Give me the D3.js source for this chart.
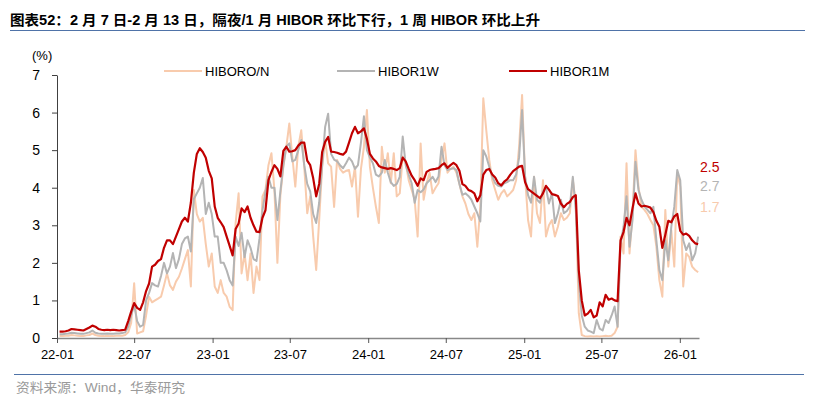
<!DOCTYPE html>
<html>
<meta charset="utf-8">
<script src="https://cdn.jsdelivr.net/npm/d3@7"></script>
<style>
body { margin: 0; background: #fff; }
svg text { font-family: "Liberation Sans", Arial, "Noto Sans CJK SC", sans-serif; }
</style>
<body>
<svg id="chart" width="820" height="397"></svg>
</body>
<script>
// weekly fixings (Fridays), 2022-01-07 .. 2026-02-13
const firstWeek = new Date(2022, 0, 7);

const hiborON = [
	0.05,0.05,0.06,0.06,0.08,0.07,0.06,0.05,0.05,0.07,
	0.08,0.12,0.08,0.06,0.05,0.05,0.06,0.05,0.05,0.06,
	0.06,0.06,0.08,0.15,0.4,1.46,0.12,0.15,0.18,0.6,
	1.1,0.95,1.0,1.05,1.1,1.4,1.72,1.4,1.28,1.5,
	1.63,1.85,2.1,2.34,1.37,3.94,3.3,3.1,3.2,2.5,
	1.9,2.25,1.37,1.2,1.54,1.2,1.1,0.83,0.74,3.06,
	3.85,1.72,2.25,1.54,2.25,1.2,1.9,1.54,3.77,3.94,
	4.6,4.92,3.94,2.0,3.8,4.56,5.09,5.71,4.83,4.03,
	5.09,5.53,4.56,3.32,3.77,2.7,1.81,3.14,4.56,5.27,
	4.65,4.56,3.49,4.74,4.5,4.4,4.45,4.47,4.03,4.56,
	3.23,4.5,5.09,6.07,4.56,4.0,3.5,3.06,5.09,4.4,
	4.92,4.12,4.92,3.77,3.85,4.83,4.65,4.2,3.94,3.68,
	2.7,5.18,3.68,4.12,4.4,3.85,4.0,4.12,4.74,5.18,
	4.4,4.5,4.56,4.4,4.1,3.77,3.58,3.3,3.14,3.32,
	2.43,3.5,6.38,5.53,4.74,4.2,3.94,3.68,3.85,3.94,
	3.77,3.85,3.94,4.2,5.09,6.47,4.29,3.14,2.7,4.29,
	3.32,3.06,4.2,2.7,3.0,3.14,2.7,2.96,3.32,3.14,
	3.2,3.32,4.2,3.6,0.66,0.08,0.05,0.04,0.05,0.04,
	0.05,0.04,0.05,0.06,0.05,0.06,0.13,0.3,2.7,2.25,
	4.65,2.25,3.32,5.0,4.03,3.49,3.41,3.3,3.14,3.0,
	2.43,1.54,1.1,3.41,1.9,2.87,1.9,4.4,4.03,1.37,
	2.25,2.16,1.9,1.81,1.75
];

const hibor1W = [
	0.1,0.1,0.11,0.12,0.14,0.13,0.12,0.11,0.11,0.13,
	0.15,0.2,0.14,0.12,0.11,0.11,0.12,0.11,0.11,0.12,
	0.12,0.13,0.15,0.3,0.6,0.88,0.45,0.3,0.35,1.0,
	1.2,1.46,1.4,1.37,1.65,2.0,1.72,1.9,2.26,1.86,
	2.1,2.5,2.65,2.7,2.3,3.7,3.85,4.0,4.26,3.3,
	3.6,3.3,2.7,2.7,2.0,2.0,1.8,1.54,1.4,2.7,
	2.45,2.8,2.15,2.6,2.4,2.1,2.05,2.65,3.4,3.9,
	4.29,4.0,4.0,3.14,3.9,4.6,5.1,5.18,4.7,4.74,
	5.0,5.27,4.6,4.1,3.9,3.3,3.06,3.6,4.6,5.62,
	5.97,4.9,4.75,4.7,4.6,4.52,4.65,4.8,4.7,4.5,
	4.6,5.2,5.9,5.0,4.8,4.65,4.35,4.3,4.4,4.74,
	4.4,4.15,4.05,4.1,4.29,5.36,4.6,4.35,4.12,3.6,
	3.94,3.88,3.95,4.12,4.2,4.29,4.15,4.3,5.09,4.6,
	4.47,4.5,4.52,4.47,4.1,3.81,3.85,3.78,3.68,3.5,
	3.32,3.1,5.0,4.83,4.56,4.3,4.12,4.05,4.03,4.12,
	4.15,4.2,4.2,4.35,4.8,6.07,4.3,3.8,3.6,4.29,
	3.68,3.6,3.9,4.0,3.58,3.85,3.06,3.32,3.68,3.32,
	3.38,3.5,4.29,3.4,1.5,0.6,0.3,0.2,0.17,0.13,
	0.48,0.25,0.2,0.48,0.4,0.6,0.84,0.3,2.5,2.96,
	3.77,2.43,3.14,4.69,3.94,3.68,3.5,3.41,3.32,3.49,
	2.6,1.81,1.54,2.6,2.07,2.96,3.49,4.47,4.2,2.6,
	2.34,2.52,2.07,2.25,2.7
];

const hibor1M = [
	0.17,0.17,0.18,0.2,0.24,0.23,0.22,0.21,0.2,0.24,
	0.28,0.33,0.3,0.24,0.22,0.21,0.22,0.21,0.22,0.21,
	0.2,0.21,0.22,0.45,0.7,0.93,0.8,0.75,0.95,1.25,
	1.45,1.9,1.95,2.05,2.1,2.4,2.6,2.6,2.5,2.7,
	2.9,3.1,3.2,3.1,3.6,4.4,4.9,5.05,4.95,4.8,
	4.45,4.25,3.5,3.2,3.08,2.95,2.7,2.45,2.2,2.9,
	3.05,3.45,3.35,3.5,3.2,3.0,2.83,2.82,3.2,3.4,
	4.2,4.42,4.6,4.5,4.3,4.98,5.09,4.96,4.97,5.0,
	5.12,5.2,5.2,4.72,4.6,4.25,3.77,4.1,4.95,5.22,
	5.35,4.96,4.95,4.93,4.9,4.88,4.96,5.2,5.45,5.62,
	5.45,5.5,5.58,5.3,4.9,4.78,4.7,4.58,4.54,4.52,
	4.5,4.52,4.5,4.47,4.52,4.8,4.7,4.5,4.32,4.2,
	4.05,4.25,4.2,4.42,4.47,4.49,4.5,4.52,4.6,4.65,
	4.53,4.6,4.66,4.6,4.45,4.1,4.05,3.94,3.91,3.85,
	3.64,3.8,4.35,4.47,4.5,4.35,4.27,4.12,4.06,4.16,
	4.22,4.34,4.44,4.5,4.56,4.58,4.15,3.96,3.9,3.84,
	3.78,3.72,3.85,4.05,3.95,3.83,3.81,3.78,3.58,3.48,
	3.57,3.62,3.75,3.8,1.8,1.0,0.6,0.65,0.75,0.55,
	0.6,0.95,0.84,1.15,1.02,1.05,1.0,0.98,2.6,2.82,
	3.2,3.0,3.45,3.85,3.58,3.5,3.52,3.5,3.47,3.35,
	3.12,2.96,2.4,2.75,3.12,3.08,3.24,3.3,2.85,2.75,
	2.78,2.72,2.6,2.52,2.5
];

const seriesNames = ["HIBORO/N", "HIBOR1W", "HIBOR1M"];
const seriesColors = ["#F8CBAD", "#B4B4B4", "#C00000"];
const lastLabels = ["1.7", "2.7", "2.5"];
const yTicks = [0, 1, 2, 3, 4, 5, 6, 7];

const titleText = "图表52：2 月 7 日-2 月 13 日，隔夜/1 月  HIBOR 环比下行，1 周 HIBOR 环比上升";
const sourceText = "资料来源：Wind，华泰研究";

const svg = d3.select("#chart");

const x = d3.scaleTime()
	.domain([new Date(2022, 0, 1), new Date(2026, 1, 15)])
	.range([57, 699]);
const y = d3.scaleLinear().domain([0, 7]).range([338, 75]);

const dates = hiborON.map((d, i) => d3.timeDay.offset(firstWeek, 7 * i));
const allSeries = [hiborON, hibor1W, hibor1M];

// title + rules
const title = svg.append("text")
	.attr("x", 10).attr("y", 25)
	.attr("font-size", "14px").attr("font-weight", "bold")
	.attr("fill", "#000")
	.text(titleText);
const tl = title.node().getComputedTextLength();
if (Math.abs(tl - 530) > 4) title.attr("textLength", 530).attr("lengthAdjust", "spacingAndGlyphs");

svg.append("line").attr("x1", 10).attr("x2", 805).attr("y1", 30.5).attr("y2", 30.5)
	.attr("stroke", "#4F73A8").attr("stroke-width", 1.2);
svg.append("line").attr("x1", 14).attr("x2", 804).attr("y1", 374.5).attr("y2", 374.5)
	.attr("stroke", "#4F73A8").attr("stroke-width", 1.2);

const src = svg.append("text")
	.attr("x", 16).attr("y", 392)
	.attr("font-size", "13px").attr("fill", "#9a9a9a")
	.text(sourceText);
const sl = src.node().getComputedTextLength();
if (Math.abs(sl - 169) > 4) src.attr("textLength", 169).attr("lengthAdjust", "spacingAndGlyphs");

// unit
svg.append("text").attr("x", 32).attr("y", 60)
	.attr("font-size", "13px").attr("fill", "#000").text("(%)");

// axes
const yAxis = svg.append("g")
	.attr("transform", "translate(57,0)")
	.call(d3.axisLeft(y).tickValues(yTicks).tickFormat(d3.format("d")).tickSize(5).tickSizeOuter(0).tickPadding(12));
yAxis.select(".domain").attr("stroke", "#404040");
yAxis.selectAll(".tick line").attr("stroke", "#404040");
yAxis.selectAll("text").attr("font-size", "14px").attr("fill", "#000");

const xTicks = d3.timeMonth.every(6).range(new Date(2022, 0, 1), new Date(2026, 1, 2));
const xAxis = svg.append("g")
	.attr("transform", "translate(0,338)")
	.call(d3.axisBottom(x).tickValues(xTicks).tickFormat(d3.timeFormat("%y-%m")).tickSize(5).tickSizeOuter(0).tickPadding(7));
xAxis.select(".domain").attr("stroke", "#888").attr("stroke-width", 1.5);
xAxis.selectAll(".tick line").attr("stroke", "#555");
xAxis.selectAll("text").attr("font-size", "13px").attr("fill", "#000");

// lines
const line = d3.line()
	.x((d, i) => x(dates[i]))
	.y(d => y(d));

svg.append("g")
	.selectAll("path")
	.data(allSeries)
	.join("path")
	.attr("fill", "none")
	.attr("stroke", (d, i) => seriesColors[i])
	.attr("stroke-width", (d, i) => i == 2 ? 2.2 : 2)
	.attr("stroke-linejoin", "round")
	.attr("d", line);

// legend
const legendX = [164, 337, 509];
const legend = svg.append("g").selectAll("g")
	.data(seriesNames)
	.join("g")
	.attr("transform", (d, i) => "translate(" + legendX[i] + ",71)");
legend.append("line").attr("x1", 0).attr("x2", 38)
	.attr("stroke", (d, i) => seriesColors[i]).attr("stroke-width", 2);
legend.append("text").attr("x", 41).attr("y", 5)
	.attr("font-size", "13px").attr("fill", "#000").text(d => d);

// last values on the right
const lastY = [212, 191, 172];
svg.append("g").selectAll("text")
	.data(lastLabels)
	.join("text")
	.attr("x", 700).attr("y", (d, i) => lastY[i])
	.attr("font-size", "14px")
	.attr("fill", (d, i) => seriesColors[i])
	.text(d => d);
</script>
</html>
